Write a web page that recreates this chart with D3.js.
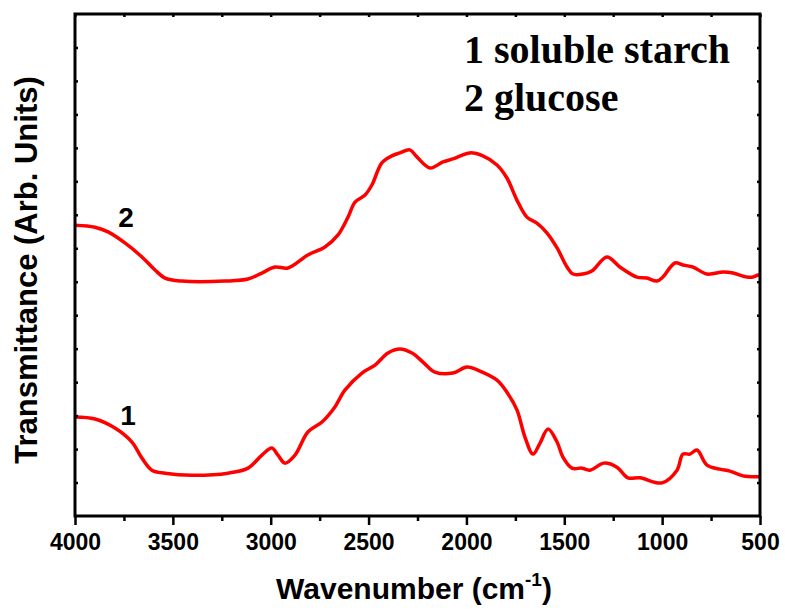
<!DOCTYPE html>
<html>
<head>
<meta charset="utf-8">
<script src="https://cdn.jsdelivr.net/npm/d3@7"></script>
<style>
  body { margin: 0; background: #fff; }
  svg text { font-family: "Liberation Sans", Arial, sans-serif; font-weight: bold; }
</style>
</head>
<body>
<svg id="canvas" width="785" height="610"></svg>
<script>
// FTIR spectra (wavenumber in cm-1, transmittance in arb. units)
var waveStarch = [4000, 3898, 3796, 3709, 3658, 3607, 3540, 3402, 3218, 3116, 3045, 2994, 2963, 2927, 2876,
    2810, 2738, 2672, 2621, 2534, 2467, 2401, 2340, 2278, 2222, 2161, 2069, 1997, 1931, 1844, 1793, 1742,
    1701, 1660, 1624, 1583, 1537, 1507, 1461, 1410, 1369, 1297, 1231, 1175, 1113, 1001, 924, 894, 858, 822,
    771, 705, 654, 587, 510, 500];
var starch = [2.96, 2.90, 2.63, 2.21, 1.73, 1.37, 1.28, 1.22, 1.28, 1.43, 1.82, 2.03, 1.82, 1.58, 1.82,
    2.51, 2.81, 3.26, 3.76, 4.27, 4.51, 4.87, 4.99, 4.87, 4.60, 4.30, 4.27, 4.45, 4.33, 4.06, 3.70, 3.17,
    2.36, 1.85, 2.18, 2.60, 2.21, 1.76, 1.43, 1.43, 1.37, 1.58, 1.46, 1.14, 1.14, 0.99, 1.37, 1.85, 1.85, 1.97,
    1.52, 1.40, 1.34, 1.20, 1.17, 1.17];

var waveGlucose = [4000, 3898, 3831, 3745, 3658, 3591, 3540, 3453, 3234, 3116, 3045, 2978, 2912, 2810, 2723,
    2656, 2605, 2569, 2518, 2483, 2432, 2381, 2340, 2289, 2253, 2186, 2120, 2069, 1982, 1916, 1844, 1793,
    1742, 1691, 1640, 1589, 1537, 1486, 1456, 1405, 1359, 1282, 1216, 1129, 1078, 1027, 996, 935, 894, 843,
    771, 689, 638, 567, 536, 510, 500];
var glucose = [8.69, 8.63, 8.49, 8.16, 7.74, 7.35, 7.11, 7.02, 7.02, 7.08, 7.26, 7.44, 7.41, 7.80, 8.04,
    8.40, 8.93, 9.38, 9.59, 9.89, 10.55, 10.76, 10.85, 10.94, 10.73, 10.40, 10.58, 10.67, 10.85, 10.76, 10.49, 10.10,
    9.44, 8.93, 8.75, 8.46, 8.01, 7.44, 7.23, 7.23, 7.32, 7.74, 7.44, 7.14, 7.11, 7.02, 7.14, 7.56, 7.50, 7.44,
    7.23, 7.29, 7.26, 7.14, 7.14, 7.20, 7.20];

var xMajor = [4000, 3500, 3000, 2500, 2000, 1500, 1000, 500];
var xMinor = [3750, 3250, 2750, 2250, 1750, 1250, 750];
var legendLines = ['1 soluble starch', '2 glucose'];

(function() {
    var svg = d3.select('#canvas');
    var left = 75, right = 760, top = 14, bottom = 516;

    var x = d3.scaleLinear().domain([4000, 500]).range([left, right]);
    var y = d3.scaleLinear().domain([0, 15]).range([bottom, top]);

    var line = d3.line()
        .x(function(d) { return x(d[0]); })
        .y(function(d) { return y(d[1]); })
        .curve(d3.curveCatmullRom.alpha(0.5));

    [[waveStarch, starch], [waveGlucose, glucose]].forEach(function(s) {
        svg.append('path')
            .datum(d3.zip(s[0], s[1]))
            .attr('fill', 'none')
            .attr('stroke', '#ff0000')
            .attr('stroke-width', 3.5)
            .attr('stroke-linejoin', 'round')
            .attr('d', line);
    });

    // bottom axis: outward ticks with labels, minor ticks in between
    var gb = svg.append('g').attr('transform', 'translate(0,' + bottom + ')');
    gb.call(d3.axisBottom(x).tickValues(xMajor).tickSize(9).tickPadding(9).tickFormat(d3.format('d')));
    gb.append('g').call(d3.axisBottom(x).tickValues(xMinor).tickSize(5).tickFormat(''));

    // top, left, right: small inward ticks
    var yTicks = d3.range(1, 15);
    svg.append('g').attr('transform', 'translate(0,' + top + ')')
        .call(d3.axisBottom(x).tickValues(xMajor.concat(xMinor)).tickSize(3).tickFormat(''));
    svg.append('g').attr('transform', 'translate(' + left + ',0)')
        .call(d3.axisRight(y).tickValues(yTicks).tickSize(3).tickFormat(''));
    svg.append('g').attr('transform', 'translate(' + right + ',0)')
        .call(d3.axisLeft(y).tickValues(yTicks).tickSize(3).tickFormat(''));

    svg.selectAll('.domain').remove();
    svg.selectAll('.tick line').attr('stroke', '#000').attr('stroke-width', 2.5);
    svg.selectAll('.tick text')
        .attr('fill', '#000')
        .style('font-size', '23px')
        .style('font-family', '"Liberation Sans", Arial, sans-serif')
        .style('font-weight', 'bold');

    svg.append('rect')
        .attr('x', left).attr('y', top)
        .attr('width', right - left).attr('height', bottom - top)
        .attr('fill', 'none').attr('stroke', '#000').attr('stroke-width', 3);

    // curve labels
    svg.append('text').attr('x', 128).attr('y', 425).attr('text-anchor', 'middle')
        .style('font-size', '28px').text('1');
    svg.append('text').attr('x', 126).attr('y', 227).attr('text-anchor', 'middle')
        .style('font-size', '28px').text('2');

    // legend
    svg.selectAll('.legend')
        .data(legendLines)
        .enter().append('text')
        .attr('class', 'legend')
        .attr('x', 464)
        .attr('y', function(d, i) { return 63 + i * 48; })
        .style('font-family', '"Liberation Serif", "Times New Roman", serif')
        .style('font-size', '40px')
        .text(function(d) { return d; });

    // axis titles
    var xt = svg.append('text')
        .attr('x', 414)
        .attr('y', 599)
        .attr('text-anchor', 'middle')
        .style('font-size', '30px');
    xt.append('tspan').text('Wavenumber (cm');
    xt.append('tspan').attr('dy', -13).style('font-size', '19px').text('-1');
    xt.append('tspan').attr('dy', 13).text(')');

    svg.append('text')
        .attr('transform', 'translate(37,270) rotate(-90)')
        .attr('text-anchor', 'middle')
        .style('font-size', '31px')
        .text('Transmittance (Arb. Units)');
})();
</script>
</body>
</html>
